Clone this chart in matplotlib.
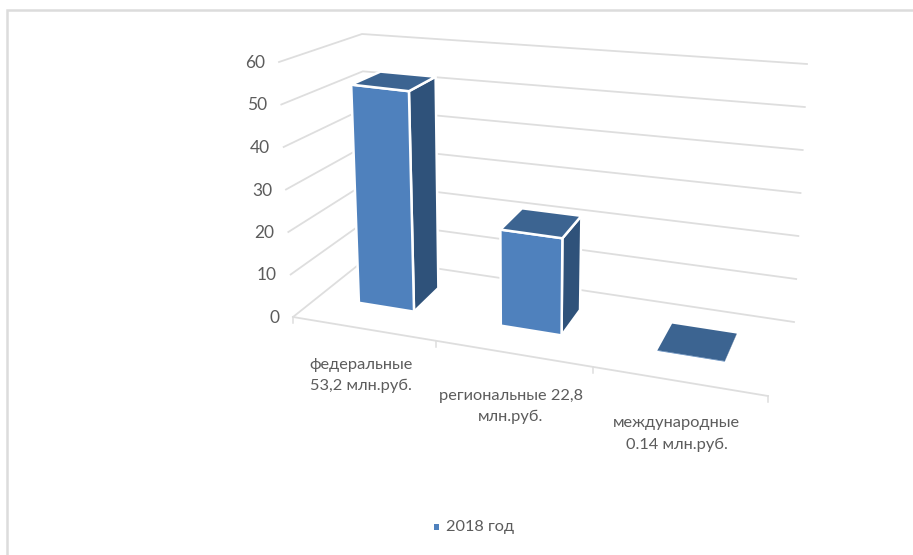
import matplotlib
matplotlib.use('Agg')
import matplotlib.pyplot as plt
from matplotlib.patches import Polygon, Rectangle

categories = ['федеральные\n53,2 млн.руб.', 'региональные 22,8\nмлн.руб.', 'международные\n0.14 млн.руб.']
values = [53.2, 22.8, 0.14]
value_ticks = [0, 10, 20, 30, 40, 50, 60]
series_name = '2018 год'

# corners of the 3d box in pixels, (front/back, left/right, bottom/top)
FLB, FLT = (293, 317), (279, 62)
FRB, FRT = (768, 396), (782, 126)
BLB, BLT = (367, 258), (362, 34)
BRB, BRT = (794, 322), (807, 64)
VMAX = 60
NCAT = len(categories)

BAR_WIDTH = 0.4
BAR_D0, BAR_D1 = 0.35, 0.73

GRID = '#dedede'
TEXT = '#5c5c5c'
FRONT = '#4f81bd'
SIDE = '#2f527a'
TOP = '#3c6491'

plt.rcParams['font.family'] = ['Lato', 'DejaVu Sans']


def lerp(a, b, t):
    return (a[0] + (b[0] - a[0]) * t, a[1] + (b[1] - a[1]) * t)


def project(cat, val, depth):
    # categories get wider to the right, so warp the position a bit
    u = cat / NCAT
    m = -0.139
    s = u * (1 + m) / (1 + m * u)
    v = val / VMAX
    fl = lerp(FLB, FLT, v)
    fr = lerp(FRB, FRT, v)
    bl = lerp(BLB, BLT, v)
    br = lerp(BRB, BRT, v)
    return lerp(lerp(fl, fr, s), lerp(bl, br, s), depth)


fig = plt.figure(figsize=(9.13, 5.55), dpi=100)
ax = fig.add_axes([0, 0, 1, 1])
ax.set_xlim(0, 913)
ax.set_ylim(555, 0)
ax.axis('off')

# outer border of the chart
ax.plot([7, 7, 913], [555, 10, 10], color='#dcdcdc', lw=1.8, solid_joinstyle='miter')

# gridlines on side wall and back wall
for v in value_ticks:
    pts = [project(0, v, 0), project(0, v, 1), project(NCAT, v, 1)]
    ax.plot([p[0] for p in pts], [p[1] for p in pts], color=GRID, lw=1.3, solid_joinstyle='miter', zorder=1)
    x, y = project(0, v, 0)
    ax.text(x - 14, y + 1, str(v), ha='right', va='center', fontsize=12.5, color=TEXT)

# front axis with ticks
a, b = project(0, 0, 0), project(NCAT, 0, 0)
ax.plot([a[0], b[0]], [a[1], b[1]], color=GRID, lw=1.3, zorder=1)
for i in range(NCAT + 1):
    x, y = project(i, 0, 0)
    ax.plot([x, x], [y, y + 6], color=GRID, lw=1.1, zorder=1)

label_offsets = [47, 53, 53]
for i, name in enumerate(categories):
    x, y = project(i + 0.5, 0, 0)
    ax.text(x - 2, y + label_offsets[i], name, ha='center', va='center', fontsize=11.8,
            color=TEXT, linespacing=1.65)

# bars
for i, val in enumerate(values):
    c0 = i + 0.5 - BAR_WIDTH / 2
    c1 = i + 0.5 + BAR_WIDTH / 2
    front = [project(c0, 0, BAR_D0), project(c1, 0, BAR_D0), project(c1, val, BAR_D0), project(c0, val, BAR_D0)]
    side = [project(c1, 0, BAR_D0), project(c1, 0, BAR_D1), project(c1, val, BAR_D1), project(c1, val, BAR_D0)]
    top = [project(c0, val, BAR_D0), project(c1, val, BAR_D0), project(c1, val, BAR_D1), project(c0, val, BAR_D1)]
    edge = 'white' if val > 1 else 'none'
    ax.add_patch(Polygon(side, closed=True, facecolor=SIDE, edgecolor=edge, lw=1.8, zorder=3))
    ax.add_patch(Polygon(front, closed=True, facecolor=FRONT, edgecolor=edge, lw=1.8, zorder=3))
    ax.add_patch(Polygon(top, closed=True, facecolor=TOP, edgecolor=edge, lw=1.8, zorder=3))

# legend
ax.add_patch(Rectangle((434, 524), 5, 6, facecolor=FRONT, edgecolor='none'))
ax.text(446, 527, series_name, ha='left', va='center', fontsize=11.8, color=TEXT)

fig.savefig('out.png', dpi=100)
